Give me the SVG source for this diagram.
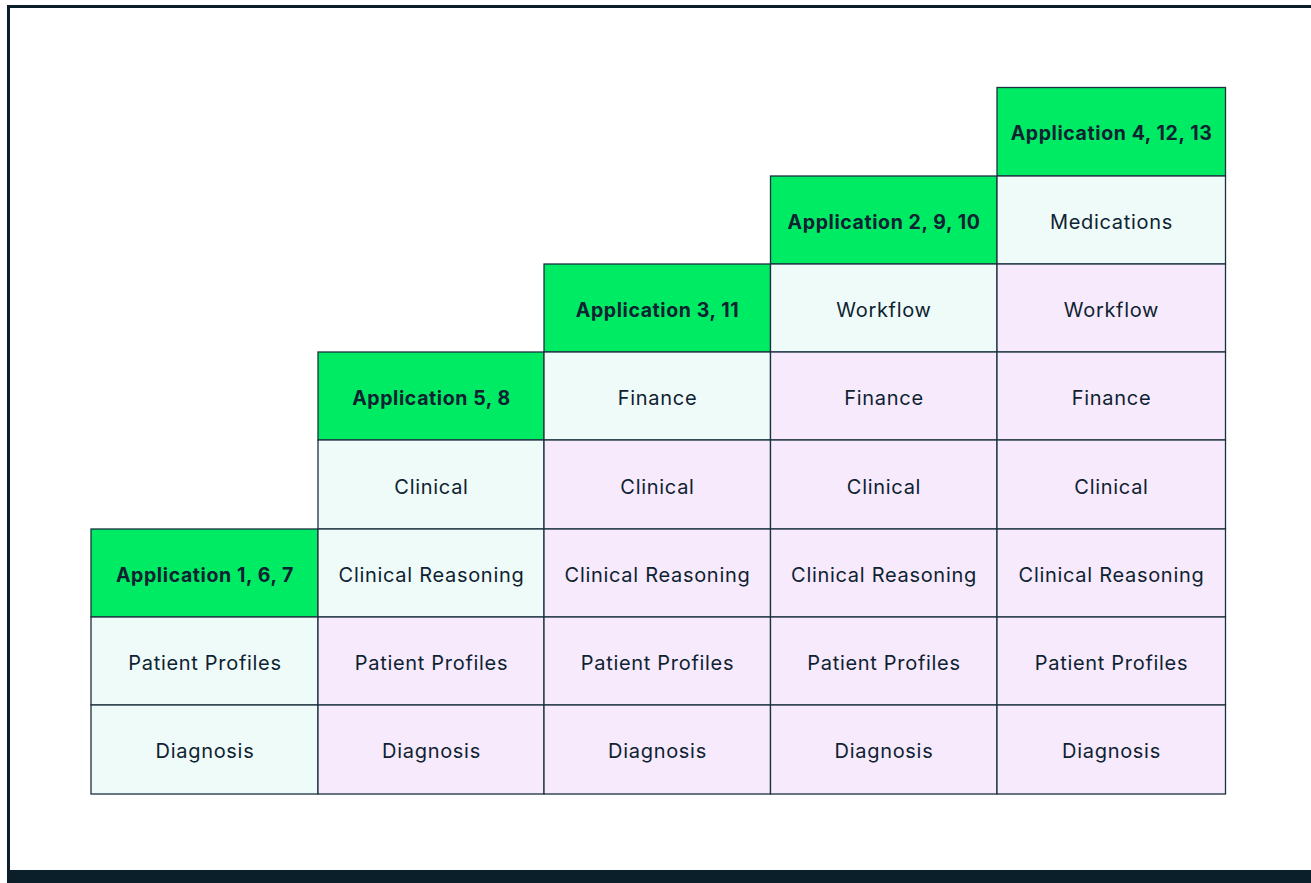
<svg xmlns="http://www.w3.org/2000/svg" width="1311" height="883" viewBox="0 0 1311 883">
<style>
.c{stroke:#1c3140;stroke-width:1.3}
.g{fill:#00eb64}
.n{fill:#effbf8}
.p{fill:#f6eafc}
text{font-family:Inter,"Noto Sans","Liberation Sans",sans-serif;font-size:20px;letter-spacing:0.7px;fill:#0e2231;text-anchor:middle;dominant-baseline:central}
.b{font-weight:700;font-size:19.5px;letter-spacing:0.6px}
</style>
<rect x="0" y="0" width="1311" height="883" fill="#ffffff"/>
<path d="M8.5 883 V6.5 H1311" fill="none" stroke="#0b1f2b" stroke-width="3"/>
<rect x="7" y="870" width="1304" height="13" fill="#0b1f2b"/>
<g id="col1">
<g id="app1"><rect class="c g" x="91" y="529" width="227" height="88"/><text class="b" x="205" y="574.5">Application 1, 6, 7</text></g>
<g id="c1pp"><rect class="c n" x="91" y="617" width="227" height="88"/><text x="205" y="662.5">Patient Profiles</text></g>
<g id="c1dx"><rect class="c n" x="91" y="705" width="227" height="89"/><text x="205" y="751">Diagnosis</text></g>
</g>
<g id="col2">
<g id="app5"><rect class="c g" x="318" y="352" width="226" height="88"/><text class="b" x="431.5" y="397.5">Application 5, 8</text></g>
<g id="c2cl"><rect class="c n" x="318" y="440" width="226" height="89"/><text x="431.5" y="486.5">Clinical</text></g>
<g id="c2cr"><rect class="c n" x="318" y="529" width="226" height="88"/><text x="431.5" y="574.5">Clinical Reasoning</text></g>
<g id="c2pp"><rect class="c p" x="318" y="617" width="226" height="88"/><text x="431.5" y="662.5">Patient Profiles</text></g>
<g id="c2dx"><rect class="c p" x="318" y="705" width="226" height="89"/><text x="431.5" y="751">Diagnosis</text></g>
</g>
<g id="col3">
<g id="app3"><rect class="c g" x="544" y="264" width="226.5" height="88"/><text class="b" x="657.5" y="309.5">Application 3, 11</text></g>
<g id="c3fi"><rect class="c n" x="544" y="352" width="226.5" height="88"/><text x="657.5" y="397.5">Finance</text></g>
<g id="c3cl"><rect class="c p" x="544" y="440" width="226.5" height="89"/><text x="657.5" y="486.5">Clinical</text></g>
<g id="c3cr"><rect class="c p" x="544" y="529" width="226.5" height="88"/><text x="657.5" y="574.5">Clinical Reasoning</text></g>
<g id="c3pp"><rect class="c p" x="544" y="617" width="226.5" height="88"/><text x="657.5" y="662.5">Patient Profiles</text></g>
<g id="c3dx"><rect class="c p" x="544" y="705" width="226.5" height="89"/><text x="657.5" y="751">Diagnosis</text></g>
</g>
<g id="col4">
<g id="app2"><rect class="c g" x="770.5" y="176" width="226.5" height="88"/><text class="b" x="884" y="221.5">Application 2, 9, 10</text></g>
<g id="c4wf"><rect class="c n" x="770.5" y="264" width="226.5" height="88"/><text x="884" y="309.5">Workflow</text></g>
<g id="c4fi"><rect class="c p" x="770.5" y="352" width="226.5" height="88"/><text x="884" y="397.5">Finance</text></g>
<g id="c4cl"><rect class="c p" x="770.5" y="440" width="226.5" height="89"/><text x="884" y="486.5">Clinical</text></g>
<g id="c4cr"><rect class="c p" x="770.5" y="529" width="226.5" height="88"/><text x="884" y="574.5">Clinical Reasoning</text></g>
<g id="c4pp"><rect class="c p" x="770.5" y="617" width="226.5" height="88"/><text x="884" y="662.5">Patient Profiles</text></g>
<g id="c4dx"><rect class="c p" x="770.5" y="705" width="226.5" height="89"/><text x="884" y="751">Diagnosis</text></g>
</g>
<g id="col5">
<g id="app4"><rect class="c g" x="997" y="87.5" width="228.5" height="88.5"/><text class="b" x="1111.5" y="132.5">Application 4, 12, 13</text></g>
<g id="c5me"><rect class="c n" x="997" y="176" width="228.5" height="88"/><text x="1111.5" y="221.5">Medications</text></g>
<g id="c5wf"><rect class="c p" x="997" y="264" width="228.5" height="88"/><text x="1111.5" y="309.5">Workflow</text></g>
<g id="c5fi"><rect class="c p" x="997" y="352" width="228.5" height="88"/><text x="1111.5" y="397.5">Finance</text></g>
<g id="c5cl"><rect class="c p" x="997" y="440" width="228.5" height="89"/><text x="1111.5" y="486.5">Clinical</text></g>
<g id="c5cr"><rect class="c p" x="997" y="529" width="228.5" height="88"/><text x="1111.5" y="574.5">Clinical Reasoning</text></g>
<g id="c5pp"><rect class="c p" x="997" y="617" width="228.5" height="88"/><text x="1111.5" y="662.5">Patient Profiles</text></g>
<g id="c5dx"><rect class="c p" x="997" y="705" width="228.5" height="89"/><text x="1111.5" y="751">Diagnosis</text></g>
</g>
<g id="connectors"></g>
</svg>
